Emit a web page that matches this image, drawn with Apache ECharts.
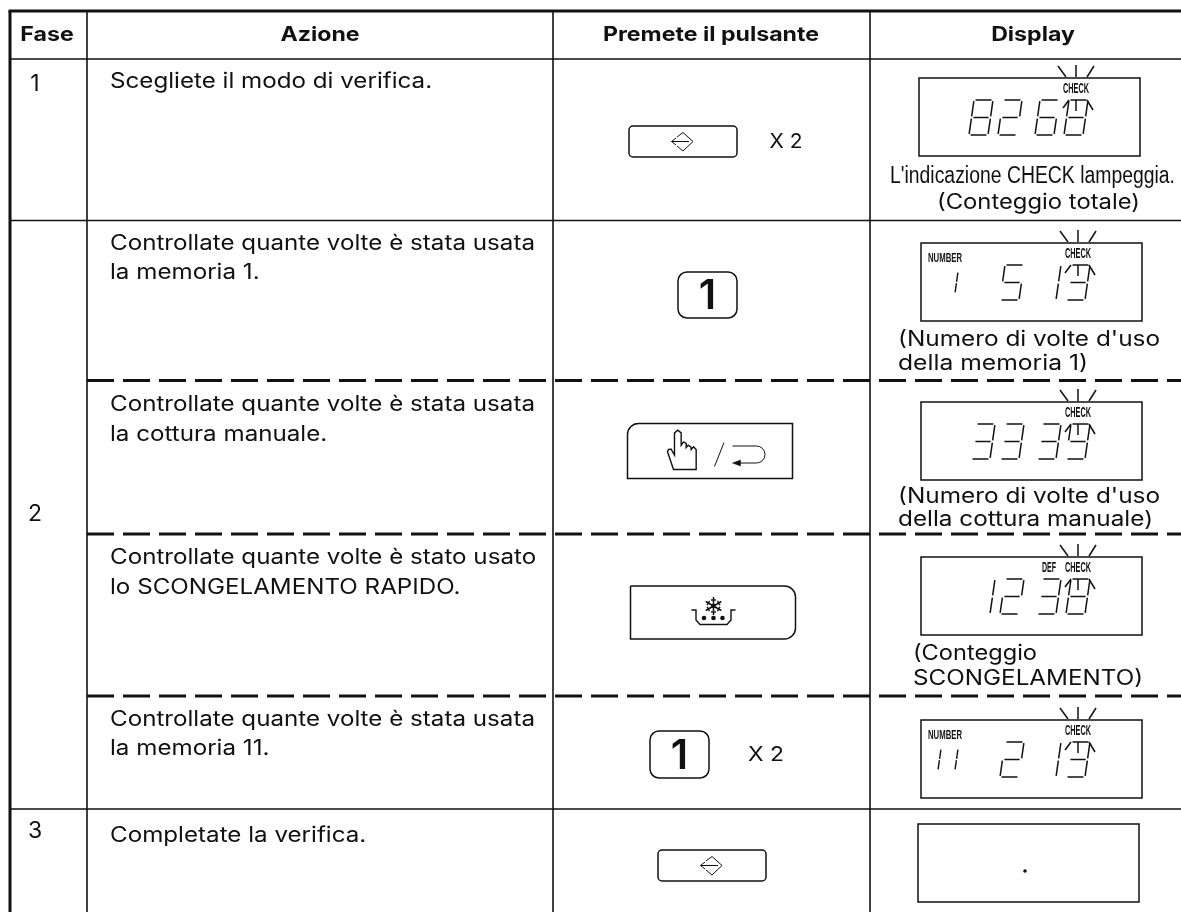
<!DOCTYPE html>
<html>
<head>
<meta charset="utf-8">
<style>html,body{margin:0;background:#fff}#main{width:1181px;height:912px}</style>
<script src="https://cdn.jsdelivr.net/npm/echarts@6/dist/echarts.min.js"></script>
</head>
<body>
<div id="main"></div>
<script>
// table content
var headers = ['Fase', 'Azione', 'Premete il pulsante', 'Display'];
var headerX = [47, 320, 711, 1033];
var stepLabels = ['1', '2', '3'];
var stepY = [84, 514, 831];
var actionLines = [
  ['Scegliete il modo di verifica.', 81.5],
  ['Controllate quante volte è stata usata', 243.5],
  ['la memoria 1.', 272.5],
  ['Controllate quante volte è stata usata', 404.5],
  ['la cottura manuale.', 434.5],
  ['Controllate quante volte è stato usato', 557.5],
  ['lo SCONGELAMENTO RAPIDO.', 587.5],
  ['Controllate quante volte è stata usata', 719.5],
  ['la memoria 11.', 748.5],
  ['Completate la verifica.', 835.5]
];
// text, left, middle y, width on the page
var captions = [
  ['(Conteggio totale)', 937, 202.5, 203],
  ["(Numero di volte d'uso", 898, 339.5, 262],
  ['della memoria 1)', 898, 363.5, 190],
  ["(Numero di volte d'uso", 898, 496.5, 262],
  ['della cottura manuale)', 898, 519.5, 255],
  ['(Conteggio', 913, 653.5, 124],
  ['SCONGELAMENTO)', 913, 678.5, 230]
];
var blinkNote = "L'indicazione CHECK lampeggia.";
var columnX = [87, 553, 870];
var solidRowY = [59, 220.5, 809];
var dashedRowY = [380.5, 534, 696];

// left, top, big digits, memory digits, CHECK, DEF
var displayLeft = [919, 921, 921, 921, 921, 918];
var displayTop = [78, 243, 402, 557, 720, 824];
var displayDigits = ['8268', ' 513', '3339', '1238', ' 213', ''];
var displayMemory = ['', ' 1', '', '', '11', ''];
var displayDef = [0, 0, 0, 1, 0, 0];

// keys: kind, left, top, width, height
var keyKind = ['enter', 'one', 'hand', 'defrost', 'one', 'enter'];
var keyLeft = [629, 678, 627.5, 630.5, 650, 658];
var keyTop = [126, 272, 423.5, 586, 731, 850];
var keyWidth = [108, 59, 165, 165, 59, 108];
var keyHeight = [31, 46, 55, 53, 47, 31];
var timesLabels = [['X 2', 786, 142, 33], ['X 2', 766, 755, 36]];

var INK = '#111';
var SANS = 'Inter, "Liberation Sans", sans-serif';
var NARROW = '"Liberation Sans", Arial, sans-serif';
var SEGMENTS = {
  '0': 'abcdef', '1': 'bc', '2': 'abged', '3': 'abgcd', '4': 'fgbc',
  '5': 'afgcd', '6': 'afgedc', '7': 'abc', '8': 'abcdefg', '9': 'abcdfg', ' ': ''
};

var meter = document.createElement('canvas').getContext('2d');
function fitScale(text, font, width) {
  meter.font = font;
  return width / meter.measureText(text).width;
}

function line(x1, y1, x2, y2, w, dash) {
  return {
    type: 'line',
    shape: {x1: x1, y1: y1, x2: x2, y2: y2},
    style: {stroke: INK, lineWidth: w, lineDash: dash || null, fill: null}
  };
}
function poly(points, w, fill, closed) {
  return {
    type: closed ? 'polygon' : 'polyline',
    shape: {points: points},
    style: {stroke: INK, lineWidth: w, fill: fill || null}
  };
}
function text(str, x, y, font, sx, align) {
  return {
    type: 'text',
    x: x,
    y: y,
    scaleX: sx || 1,
    style: {text: str, x: 0, y: 0, font: font, fill: INK, textAlign: align || 'left', textVerticalAlign: 'middle'}
  };
}
function circle(x, y, r) {
  return {type: 'circle', shape: {cx: x, cy: y, r: r}, style: {fill: INK}};
}

function sevenSeg(ch, x, y, w, h, slant, lw) {
  var out = [];
  function P(u, v) { return [x + u * w + slant * (1 - v), y + v * h]; }
  var seg = {
    a: [[0.08, 0], [0.92, 0]], b: [[1, 0.03], [1, 0.47]], c: [[1, 0.53], [1, 0.97]],
    d: [[0.08, 1], [0.92, 1]], e: [[0, 0.53], [0, 0.97]], f: [[0, 0.03], [0, 0.47]],
    g: [[0.1, 0.5], [0.9, 0.5]]
  };
  SEGMENTS[ch].split('').forEach(function (s) {
    var a = P(seg[s][0][0], seg[s][0][1]), b = P(seg[s][1][0], seg[s][1][1]);
    out.push(line(a[0], a[1], b[0], b[1], lw));
  });
  return out;
}

function renderDisplay(params, api) {
  var i = api.value(2);
  var p = api.coord([api.value(0), api.value(1)]);
  var L = p[0], T = p[1], kids = [];
  kids.push({type: 'rect', shape: {x: L, y: T, width: 221, height: 78}, style: {stroke: INK, lineWidth: 1.5, fill: null}});
  if (displayDigits[i] === '') {
    kids.push(circle(L + 107, T + 47, 1.8));
    return {type: 'group', children: kids};
  }
  var cx = L + 157;
  var check = 'bold 14px ' + NARROW;
  kids.push(text('CHECK', cx, T + 11, check, fitScale('CHECK', check, 26), 'center'));
  // flashing rays
  kids.push(line(cx - 18, T - 12, cx - 10, T - 1, 1.5));
  kids.push(line(cx, T - 13, cx, T - 1, 1.5));
  kids.push(line(cx + 18, T - 12, cx + 11, T - 1, 1.5));
  kids.push(line(cx - 13, T + 30, cx - 7, T + 22, 1.5));
  kids.push(line(cx, T + 33, cx, T + 22, 1.5));
  kids.push(line(cx + 17, T + 32, cx + 11, T + 22, 1.5));
  if (displayDef[i]) {
    kids.push(text('DEF', L + 128, T + 11, check, fitScale('DEF', check, 14), 'center'));
  }
  if (displayMemory[i] !== '') {
    var small = 'bold 13px ' + NARROW;
    kids.push(text('NUMBER', L + 7, T + 15, small, fitScale('NUMBER', small, 34)));
    displayMemory[i].split('').forEach(function (ch, k) {
      kids = kids.concat(sevenSeg(ch, L + 7 + k * 17, T + 29, 10, 21, 3, 1.4));
    });
  }
  var slots = [50, 79, 116, 145];
  displayDigits[i].split('').forEach(function (ch, k) {
    kids = kids.concat(sevenSeg(ch, L + slots[k], T + 22, 19, 35, 5, 1.5));
  });
  return {type: 'group', children: kids};
}

function enterIcon(cx, cy) {
  return [
    line(cx - 11.5, cy, cx + 6, cy, 1),
    poly([[cx - 7, cy - 3.5], [cx - 11.5, cy], [cx - 7, cy + 3.5]], 1),
    poly([[cx - 6, cy - 4.5], [cx, cy - 9], [cx + 10, cy], [cx, cy + 9.5], [cx - 6, cy + 4.5]], 1)
  ];
}
function handIcon(L, T) {
  var pts = [[138, 138], [120, 85], [123, 78], [131, 77], [141, 95], [141, 28], [151, 20], [161, 28], [161, 65],
    [168, 55], [176, 60], [176, 72], [182, 65], [190, 70], [191, 78], [198, 70], [206, 78], [206, 138]];
  return poly(pts.map(function (q) { return [L + q[0] / 3, T + q[1] / 3]; }), 1.4, null, true);
}
function returnIcon(L, T) {
  return [
    line(L + 87, T + 43, L + 96.5, T + 19, 1),
    {
      type: 'path',
      shape: {pathData: 'M' + (L + 105) + ' ' + (T + 22.5) + 'h24a8.5 8.5 0 0 1 0 17h-18', layout: null},
      style: {stroke: INK, lineWidth: 1, fill: null}
    },
    poly([[L + 105, T + 39.5], [L + 113, T + 36.5], [L + 113, T + 42.5]], 0.5, INK, true)
  ];
}
function defrostIcon(L, T) {
  var cx = L + 83, cy = T + 20, kids = [];
  for (var a = 0; a < 3; a++) {
    var t = a * Math.PI / 3 + Math.PI / 2;
    var dx = Math.cos(t), dy = Math.sin(t);
    kids.push(line(cx - 9 * dx, cy - 9 * dy, cx + 9 * dx, cy + 9 * dy, 1.5));
    [-1, 1].forEach(function (sg) {
      var bx = cx + sg * 6 * dx, by = cy + sg * 6 * dy;
      kids.push(line(bx - 2.5 * dy, by + 2.5 * dx, bx + 2.5 * dy, by - 2.5 * dx, 1.4));
    });
  }
  kids.push(circle(cx, cy, 2.2));
  kids.push(poly([[L + 61, T + 24], [L + 65.5, T + 24], [L + 65.5, T + 34], [L + 69.5, T + 38.5], [L + 96.5, T + 38.5],
    [L + 100.5, T + 34], [L + 100.5, T + 24], [L + 105, T + 24]], 1.4));
  [-9.5, 0, 9].forEach(function (d) { kids.push(circle(cx + d, T + 32, 2.3)); });
  return kids;
}

function renderKey(params, api) {
  var i = api.value(2);
  var p = api.coord([api.value(0), api.value(1)]);
  var kind = keyKind[i], L = p[0], T = p[1], W = keyWidth[i], H = keyHeight[i];
  var r = kind === 'enter' ? 4 : kind === 'one' ? 9 : kind === 'hand' ? [11, 0, 0, 0] : [0, 11, 11, 0];
  var kids = [{type: 'rect', shape: {x: L, y: T, width: W, height: H, r: r}, style: {stroke: INK, lineWidth: 1.5, fill: null}}];
  if (kind === 'enter') kids = kids.concat(enterIcon(L + W / 2, T + H / 2));
  if (kind === 'one') kids.push(text('1', L + W / 2, T + H / 2 + 2, '600 41px ' + SANS, 1, 'center'));
  if (kind === 'hand') kids = kids.concat(handIcon(L, T), returnIcon(L, T));
  if (kind === 'defrost') kids = kids.concat(defrostIcon(L, T));
  return {type: 'group', children: kids};
}

function renderRule(params, api) {
  var a = api.coord([api.value(0), api.value(1)]);
  var b = api.coord([api.value(2), api.value(3)]);
  return line(a[0], a[1], b[0], b[1], api.value(4), api.value(5) ? [27, 9] : null);
}

function renderLabel(params, api) {
  var d = labelData[params.dataIndex];
  var p = api.coord([d[1], d[2]]);
  return text(d[0], p[0], p[1], d[3], d[4], d[5]);
}

// rules: x1, y1, x2, y2, width, dashed
var ruleData = [[8.5, 11, 1181, 11, 3, 0], [10, 11, 10, 912, 3, 0]];
columnX.forEach(function (x) { ruleData.push([x, 11, x, 912, 1.6, 0]); });
solidRowY.forEach(function (y) { ruleData.push([10, y, 1181, y, 1.6, 0]); });
dashedRowY.forEach(function (y) { ruleData.push([87, y, 1181, y, 3, 1]); });

// labels: text, x, y, font, scaleX, align
var labelData = [];
var headFont = 'bold 20px ' + SANS;
var bodyFont = '21px ' + SANS;
var narrowFont = '23px ' + NARROW;
var headScale = fitScale('Premete il pulsante', headFont, 216);
var bodyScale = fitScale(actionLines[1][0], bodyFont, 425);
headers.forEach(function (h, i) { labelData.push([h, headerX[i], 35, headFont, headScale, 'center']); });
stepLabels.forEach(function (s, i) { labelData.push([s, 35, stepY[i], '23px ' + SANS, 1, 'center']); });
actionLines.forEach(function (a) { labelData.push([a[0], 110, a[1], bodyFont, bodyScale, 'left']); });
labelData.push([blinkNote, 890, 177, narrowFont, fitScale(blinkNote, narrowFont, 285), 'left']);
captions.forEach(function (c) { labelData.push([c[0], c[1], c[2], bodyFont, fitScale(c[0], bodyFont, c[3]), 'left']); });
timesLabels.forEach(function (t) {
  labelData.push([t[0], t[1], t[2], '20px ' + SANS, fitScale(t[0], '20px ' + SANS, t[3]), 'center']);
});

var option = {
  animation: false,
  backgroundColor: '#fff',
  grid: {left: 0, right: 0, top: 0, bottom: 0},
  xAxis: {type: 'value', min: 0, max: 1181, show: false},
  yAxis: {type: 'value', min: 0, max: 912, inverse: true, show: false},
  series: [
    {type: 'custom', name: 'rules', silent: true, clip: false, renderItem: renderRule, data: ruleData},
    {type: 'custom', name: 'labels', silent: true, clip: false, renderItem: renderLabel,
      data: labelData.map(function (d) { return [d[1], d[2]]; })},
    {type: 'custom', name: 'keys', silent: true, clip: false, renderItem: renderKey,
      data: keyKind.map(function (k, i) { return [keyLeft[i], keyTop[i], i]; })},
    {type: 'custom', name: 'displays', silent: true, clip: false, renderItem: renderDisplay,
      data: displayLeft.map(function (x, i) { return [x, displayTop[i], i]; })}
  ]
};
var myChart = echarts.init(document.getElementById('main'));
myChart.setOption(option);
</script>
</body>
</html>
